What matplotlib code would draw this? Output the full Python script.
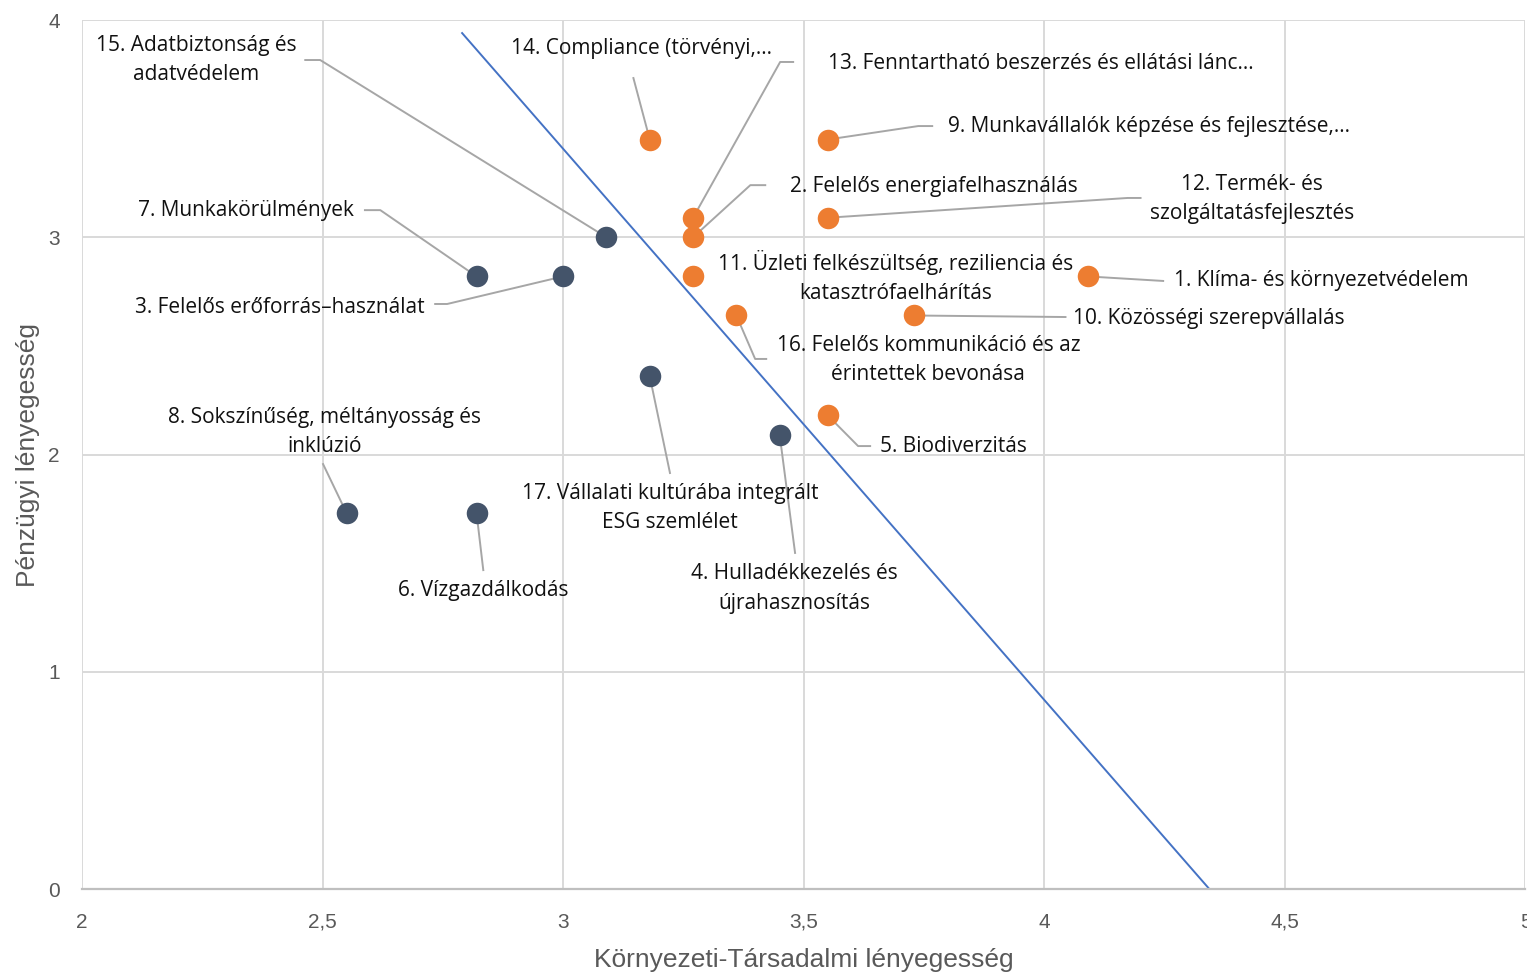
"""ESG lényegességi mátrix – pénzügyi vs. környezeti-társadalmi lényegesség."""
import matplotlib
matplotlib.use("Agg")
import matplotlib.pyplot as plt
import matplotlib.ticker as mticker

# --- data -------------------------------------------------------------------
LABELS = [
    "1. Klíma- és környezetvédelem",
    "2. Felelős energiafelhasználás",
    "3. Felelős erőforrás–használat",
    "4. Hulladékkezelés és\nújrahasznosítás",
    "5. Biodiverzitás",
    "6. Vízgazdálkodás",
    "7. Munkakörülmények",
    "8. Sokszínűség, méltányosság és\ninklúzió",
    "9. Munkavállalók képzése és fejlesztése,…",
    "10. Közösségi szerepvállalás",
    "11. Üzleti felkészültség, reziliencia és\nkatasztrófaelhárítás",
    "12. Termék- és\nszolgáltatásfejlesztés",
    "13. Fenntartható beszerzés és ellátási lánc…",
    "14. Compliance (törvényi,…",
    "15. Adatbiztonság és\nadatvédelem",
    "16. Felelős kommunikáció és az\nérintettek bevonása",
    "17. Vállalati kultúrába integrált\nESG szemlélet",
]
ENV_SOC = [4.09, 3.27, 3.00, 3.45, 3.55, 2.82, 2.82, 2.55, 3.55,
           3.73, 3.27, 3.55, 3.27, 3.18, 3.09, 3.36, 3.18]
FINANCIAL = [2.82, 3.00, 2.82, 2.09, 2.18, 1.73, 2.82, 1.73, 3.45,
             2.64, 2.82, 3.09, 3.09, 3.45, 3.00, 2.64, 2.36]
PRIORITY = [True, True, False, False, True, False, False, False, True,
            True, True, True, True, True, False, True, False]

# threshold line endpoints
LINE_X = [2.79, 4.343]
LINE_Y = [3.94, 0.0]

# label placement (text centre) and leader line (elbow, end-x)
LABEL_POS = [
    (4.576, 2.799), (3.771, 3.236), (2.412, 2.679), (3.480, 1.385),
    (3.811, 2.039), (2.834, 1.376), (2.341, 3.125), (2.505, 2.104),
    (4.218, 3.512), (4.341, 2.628), (3.692, 2.817), (4.432, 3.176),
    (3.992, 3.802), (3.162, 3.871), (2.237, 3.816), (3.759, 2.435),
    (3.222, 1.754),
]
LEADERS = [
    (4.247, 2.799, None), (3.389, 3.240, 3.420), (2.759, 2.693, 2.734),
    (3.482, 1.547, None), (3.613, 2.039, 3.638), (2.834, 1.468, None),
    (2.620, 3.125, 2.588), (2.501, 1.956, None), (3.738, 3.512, 3.767),
    (4.044, 2.633, None), None, (4.173, 3.181, 4.200),
    (3.451, 3.807, 3.478), (3.146, 3.733, None), (2.495, 3.816, 2.464),
    (3.399, 2.440, 3.422), (3.222, 1.915, None),
]

ORANGE = "#ED7D31"
NAVY = "#44546A"
BLUE = "#4472C4"
GRID = "#D9D9D9"
AXIS_TXT = "#595959"
LEADER = "#A6A6A6"
SANS = ["Liberation Sans", "DejaVu Sans"]

plt.rcParams["font.family"] = ["Open Sans", "DejaVu Sans"]

fig = plt.figure(figsize=(15.27, 9.73), dpi=100, facecolor="white")
ax = fig.add_axes([0.0537, 0.0863, 0.9453, 0.8931])

ax.set_xlim(2, 5)
ax.set_ylim(0, 4)
ax.xaxis.set_major_locator(mticker.MultipleLocator(0.5))
ax.yaxis.set_major_locator(mticker.MultipleLocator(1))
ax.xaxis.set_major_formatter(
    mticker.FuncFormatter(lambda v, _: f"{v:g}".replace(".", ",")))
ax.grid(True, color=GRID, linewidth=1.4, zorder=0)
for side in ["top", "right", "left"]:
    ax.spines[side].set_visible(False)
ax.spines["bottom"].set_color("#BFBFBF")
ax.spines["bottom"].set_linewidth(1.6)
ax.tick_params(axis="both", length=0, labelsize=15, labelcolor=AXIS_TXT)
ax.tick_params(axis="x", pad=17)
ax.tick_params(axis="y", pad=16)
for lbl in ax.get_xticklabels() + ax.get_yticklabels():
    lbl.set_family(SANS)

ax.set_xlabel("Környezeti-Társadalmi lényegesség", fontsize=19,
              color=AXIS_TXT, family=SANS, labelpad=12)
ax.set_ylabel("Pénzügyi lényegesség", fontsize=19, color=AXIS_TXT,
              family=SANS, labelpad=6)

# threshold line
ax.plot(LINE_X, LINE_Y, color=BLUE, linewidth=1.4, zorder=2)

# leader lines
for i, ld in enumerate(LEADERS):
    if ld is None:
        continue
    ex, ey, hx = ld
    xs = [ENV_SOC[i], ex]
    ys = [FINANCIAL[i], ey]
    if hx is not None:
        xs.append(hx)
        ys.append(ey)
    ax.plot(xs, ys, color=LEADER, linewidth=1.4, zorder=3)

# points
px_o = [x for x, p in zip(ENV_SOC, PRIORITY) if p]
py_o = [y for y, p in zip(FINANCIAL, PRIORITY) if p]
px_n = [x for x, p in zip(ENV_SOC, PRIORITY) if not p]
py_n = [y for y, p in zip(FINANCIAL, PRIORITY) if not p]
ax.scatter(px_o, py_o, s=240, color=ORANGE, zorder=4, linewidths=0)
ax.scatter(px_n, py_n, s=240, color=NAVY, zorder=4, linewidths=0)

# labels
for text, (tx, ty) in zip(LABELS, LABEL_POS):
    ax.text(tx, ty, text, ha="center", va="center", fontsize=15,
            color="#111111", linespacing=1.55, zorder=5)

fig.savefig("out.png", dpi=100, facecolor="white")
